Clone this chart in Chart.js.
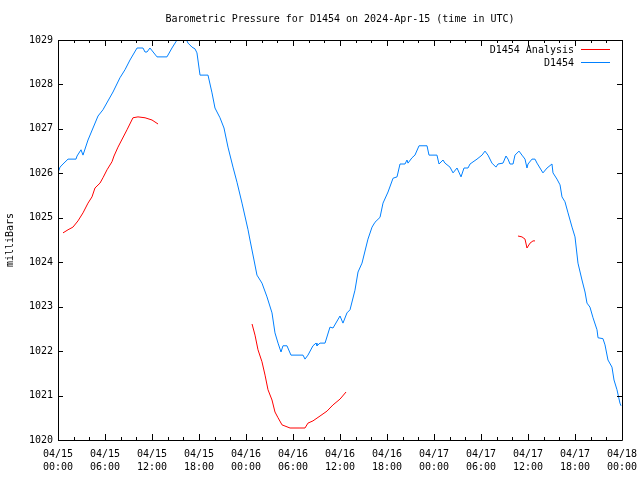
<!DOCTYPE html>
<html>
<head>
<meta charset="utf-8">
<script src="https://cdn.jsdelivr.net/npm/chart.js@4"></script>
<style>
  html, body { margin: 0; padding: 0; background: #fff; }
  #wrap { width: 640px; height: 480px; }
</style>
</head>
<body>
<div id="wrap"><canvas id="pressureChart" width="640" height="480"></canvas></div>
<script>
// hours after 2024-04-15 00:00 UTC
const analysisHours = [0.64, 1.28, 1.91, 2.55, 3.19, 3.83, 4.34, 4.72, 5.36, 5.74, 6.26, 6.89, 7.15, 7.66, 8.81, 9.57, 10.21, 11.11, 12.0, 12.77,
    18.0,
    24.77, 25.15, 25.53, 26.04, 26.43, 26.81, 27.32, 27.70, 28.09, 28.60, 29.62, 30.89, 31.53, 31.91, 32.55, 33.45, 34.34, 35.11, 36.0, 36.77,
    48.0,
    58.72, 59.23, 59.62, 59.87, 60.26, 60.64, 60.89];
const analysisMb = [1024.66, 1024.73, 1024.79, 1024.93, 1025.11, 1025.33, 1025.47, 1025.67, 1025.78, 1025.90, 1026.08, 1026.26, 1026.39, 1026.59, 1026.98, 1027.25, 1027.27, 1027.25, 1027.20, 1027.11,
    null,
    1022.61, 1022.36, 1022.03, 1021.76, 1021.46, 1021.13, 1020.90, 1020.63, 1020.50, 1020.34, 1020.27, 1020.27, 1020.27, 1020.38, 1020.43, 1020.54, 1020.65, 1020.79, 1020.92, 1021.08,
    null,
    1024.59, 1024.57, 1024.52, 1024.32, 1024.43, 1024.48, 1024.48];

const obsHours = [0.00, 0.26, 0.64, 1.28, 2.30, 2.43, 2.94, 3.19, 3.83, 5.11, 5.74, 7.02, 7.91, 8.55, 9.19, 10.09, 10.85, 11.11, 11.36, 11.74,
    12.64, 13.91, 14.55, 15.19, 15.57, 16.21, 16.60, 17.11, 17.49, 17.74, 18.13, 19.15, 19.66, 20.04, 20.68, 21.19, 21.70, 22.34, 22.85, 23.49,
    24.26, 24.51, 25.02, 25.40, 26.04, 26.68, 27.32, 27.70, 28.09, 28.47, 28.72, 29.23, 29.74, 31.28, 31.53, 31.91, 32.55, 32.94, 33.06, 33.45,
    34.09, 34.72, 35.11, 36.00, 36.38, 36.89, 37.28, 37.91, 38.30, 38.81, 39.57, 40.09, 40.47, 41.11, 41.49, 42.13, 42.77, 43.28, 43.66, 44.30,
    44.55, 44.68, 45.19, 45.57, 46.09, 47.11, 47.36, 48.38, 48.64, 49.15, 49.40, 50.04, 50.43, 50.94, 51.45, 51.83, 52.34, 52.60, 53.49, 54.13,
    54.51, 54.89, 55.40, 55.91, 56.17, 56.81, 57.19, 57.45, 57.70, 58.09, 58.34, 58.85, 59.23, 59.62, 59.87, 60.00, 60.51, 60.89, 61.15, 61.53,
    61.91, 62.43, 63.06, 63.19, 63.70, 64.09, 64.34, 64.72, 65.11, 65.62, 66.00, 66.38, 66.89, 67.28, 67.53, 67.91, 68.30, 68.81, 68.94, 69.57,
    69.83, 70.21, 70.72, 70.98, 71.36, 71.74, 71.87];
const obsMb = [1026.01, 1026.14, 1026.21, 1026.32, 1026.32, 1026.39, 1026.53, 1026.41, 1026.75, 1027.29, 1027.43, 1027.83, 1028.15, 1028.33, 1028.55, 1028.82, 1028.82, 1028.73, 1028.73, 1028.82,
    1028.62, 1028.62, 1028.82, 1029.00, 1029.07, 1029.07, 1028.93, 1028.84, 1028.80, 1028.71, 1028.21, 1028.21, 1027.81, 1027.47, 1027.25, 1027.02, 1026.59, 1026.14, 1025.80, 1025.33,
    1024.73, 1024.50, 1024.05, 1023.71, 1023.53, 1023.22, 1022.86, 1022.41, 1022.18, 1021.98, 1022.12, 1022.12, 1021.91, 1021.91, 1021.82, 1021.91, 1022.12, 1022.18, 1022.12, 1022.18,
    1022.18, 1022.54, 1022.52, 1022.79, 1022.63, 1022.86, 1022.93, 1023.37, 1023.78, 1023.98, 1024.52, 1024.79, 1024.90, 1025.01, 1025.33, 1025.58, 1025.89, 1025.92, 1026.21, 1026.21,
    1026.30, 1026.23, 1026.35, 1026.41, 1026.62, 1026.62, 1026.41, 1026.41, 1026.21, 1026.30, 1026.23, 1026.14, 1026.01, 1026.12, 1025.92, 1026.12, 1026.12, 1026.21, 1026.32, 1026.41,
    1026.50, 1026.41, 1026.23, 1026.14, 1026.21, 1026.23, 1026.39, 1026.32, 1026.21, 1026.21, 1026.41, 1026.50, 1026.41, 1026.32, 1026.12, 1026.21, 1026.32, 1026.32, 1026.23, 1026.12,
    1026.01, 1026.12, 1026.21, 1026.01, 1025.87, 1025.74, 1025.47, 1025.36, 1025.11, 1024.79, 1024.57, 1023.98, 1023.60, 1023.33, 1023.08, 1022.99, 1022.75, 1022.48, 1022.30, 1022.28,
    1022.14, 1021.80, 1021.64, 1021.35, 1021.13, 1020.83, 1020.77];

const seriesNames = ["D1454 Analysis", "D1454"];
const seriesColors = ["#ff0000", "#0080ff"];
const dayLabels = ["04/15", "04/16", "04/17", "04/18"];

const FONT = "'DejaVu Sans Mono', 'Liberation Mono', monospace";

function toPoints(xs, ys) {
    return xs.map((x, i) => ({ x: x, y: ys[i] }));
}

// gnuplot style frame, inward ticks and legend
const framePlugin = {
    id: "frame",
    afterDraw(chart) {
        const ctx = chart.ctx;
        const a = chart.chartArea;
        const xs = chart.scales.x;
        const ys = chart.scales.y;
        ctx.save();
        ctx.strokeStyle = "#000";
        ctx.lineWidth = 1;
        ctx.beginPath();
        ctx.rect(Math.round(a.left) + 0.5, Math.round(a.top) + 0.5, Math.round(a.right - a.left), Math.round(a.bottom - a.top));
        ctx.stroke();

        ctx.beginPath();
        for (let h = 0; h <= 72; h += 2) {
            const px = Math.round(xs.getPixelForValue(h)) + 0.5;
            const len = h % 6 === 0 ? 6 : 3;
            ctx.moveTo(px, a.bottom);
            ctx.lineTo(px, a.bottom - len);
            ctx.moveTo(px, a.top);
            ctx.lineTo(px, a.top + len);
        }
        for (let v = 1020; v <= 1029; v++) {
            const py = Math.round(ys.getPixelForValue(v)) + 0.5;
            ctx.moveTo(a.left, py);
            ctx.lineTo(a.left + 5, py);
            ctx.moveTo(a.right, py);
            ctx.lineTo(a.right - 5, py);
        }
        ctx.stroke();

        // key
        ctx.font = "10px " + FONT;
        ctx.fillStyle = "#000";
        ctx.textAlign = "right";
        ctx.textBaseline = "middle";
        seriesNames.forEach((name, i) => {
            const y = 50 + i * 13;
            ctx.fillText(name, 574, y);
            ctx.strokeStyle = seriesColors[i];
            ctx.beginPath();
            ctx.moveTo(581, Math.round(y) - 0.5);
            ctx.lineTo(610, Math.round(y) - 0.5);
            ctx.stroke();
        });
        ctx.restore();
    }
};

new Chart(document.getElementById("pressureChart"), {
    type: "line",
    data: {
        datasets: [{
            label: seriesNames[0],
            data: toPoints(analysisHours, analysisMb),
            borderColor: seriesColors[0],
            borderWidth: 1,
            pointRadius: 0,
            spanGaps: false,
            tension: 0
        }, {
            label: seriesNames[1],
            data: toPoints(obsHours, obsMb),
            borderColor: seriesColors[1],
            borderWidth: 1,
            pointRadius: 0,
            tension: 0
        }]
    },
    plugins: [framePlugin],
    options: {
        responsive: false,
        animation: false,
        events: [],
        layout: { padding: { left: 0, right: 18, top: 0, bottom: 0 } },
        plugins: {
            legend: { display: false },
            tooltip: { enabled: false },
            title: {
                display: true,
                fullSize: false,
                text: "Barometric Pressure for D1454 on 2024-Apr-15 (time in UTC)",
                color: "#000",
                font: { family: FONT, size: 10, weight: "normal", lineHeight: 1.2 },
                padding: { top: 13, bottom: 15 }
            }
        },
        scales: {
            x: {
                type: "linear",
                min: 0,
                max: 72,
                grid: { display: false, drawTicks: false },
                border: { display: false },
                afterFit: (scale) => {
                    scale.height = 40;
                    scale.paddingLeft = 0;
                    scale.paddingRight = 0;
                },
                ticks: {
                    stepSize: 6,
                    autoSkip: false,
                    maxRotation: 0,
                    padding: 8,
                    color: "#000",
                    font: { family: FONT, size: 10, lineHeight: 1.3 },
                    callback: (v) => {
                        const day = dayLabels[Math.floor(v / 24)];
                        const hr = String(v % 24).padStart(2, "0") + ":00";
                        return [day, hr];
                    }
                }
            },
            y: {
                min: 1020,
                max: 1029,
                grid: { display: false, drawTicks: false },
                border: { display: false },
                afterFit: (scale) => {
                    scale.width = 58;
                    scale.paddingTop = 0;
                    scale.paddingBottom = 0;
                },
                title: {
                    display: true,
                    text: "milliBars",
                    color: "#000",
                    font: { family: FONT, size: 10 },
                    padding: { top: 4, bottom: 0 }
                },
                ticks: {
                    stepSize: 1,
                    padding: 5,
                    color: "#000",
                    font: { family: FONT, size: 10 },
                    callback: (v) => String(v)
                }
            }
        }
    }
});
</script>
</body>
</html>
